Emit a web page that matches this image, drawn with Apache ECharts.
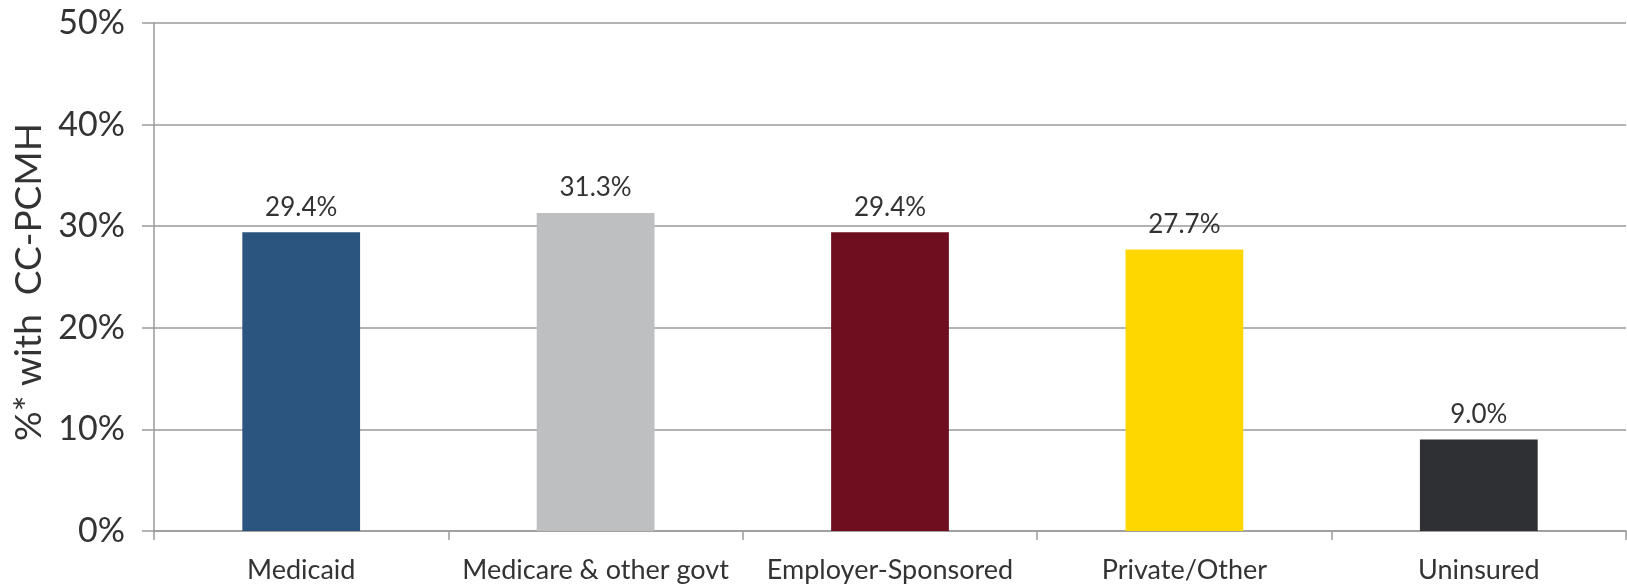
<!DOCTYPE html>
<html>
<head>
<meta charset="utf-8">
<title>CC-PCMH by insurance type</title>
<script src="https://cdn.jsdelivr.net/npm/echarts@6/dist/echarts.min.js"></script>
<style>
  html, body { margin: 0; padding: 0; background: #ffffff; }
  #chart { width: 1627px; height: 584px; }
</style>
</head>
<body>
<div id="chart"></div>
<script>
// Insurance categories and share with a CC-PCMH (percent)
const categories = ['Medicaid', 'Medicare & other govt', 'Employer-Sponsored', 'Private/Other', 'Uninsured'];
const values = [29.4, 31.3, 29.4, 27.7, 9.0];
const barColors = ['#2B547E', '#BEBFC1', '#6E0E1F', '#FFD700', '#2F3033'];
const yTicks = { min: 0, max: 50, interval: 10 };
const yTitle = '%* with  CC-PCMH';

const FONT = 'Lato, "Open Sans", sans-serif';
const TEXT = '#333333';
const RULE = '#9a9a9a';

const chart = echarts.init(document.getElementById('chart'), null, { renderer: 'canvas' });

chart.setOption({
  animation: false,
  backgroundColor: '#ffffff',
  grid: { left: 154, right: 1, top: 23, bottom: 51, containLabel: false },
  xAxis: {
    type: 'category',
    data: categories,
    boundaryGap: true,
    axisLine: { show: true, lineStyle: { color: RULE, width: 1.5 } },
    axisTick: { show: true, length: 9, alignWithLabel: false, lineStyle: { color: RULE, width: 1.5 } },
    axisLabel: { color: TEXT, fontFamily: FONT, fontSize: 27, margin: 26, interval: 0 }
  },
  yAxis: {
    type: 'value',
    min: yTicks.min,
    max: yTicks.max,
    interval: yTicks.interval,
    name: yTitle,
    nameLocation: 'middle',
    nameGap: 104,
    nameTextStyle: { color: TEXT, fontFamily: FONT, fontSize: 37, padding: [0, 10, 0, 0] },
    axisLine: { show: true, lineStyle: { color: RULE, width: 1.5 } },
    axisTick: { show: true, length: 12, lineStyle: { color: RULE, width: 1.5 } },
    axisLabel: { color: TEXT, fontFamily: FONT, fontSize: 34, margin: 29, formatter: '{value}%' },
    splitLine: { show: true, lineStyle: { color: RULE, width: 1.5 } }
  },
  series: [{
    type: 'bar',
    barWidth: '40%',
    data: values.map((v, i) => ({ value: v, itemStyle: { color: barColors[i] } })),
    label: {
      show: true,
      position: 'top',
      distance: 12,
      color: TEXT,
      fontFamily: FONT,
      fontSize: 26,
      formatter: p => p.value.toFixed(1) + '%'
    }
  }]
});
</script>
</body>
</html>
